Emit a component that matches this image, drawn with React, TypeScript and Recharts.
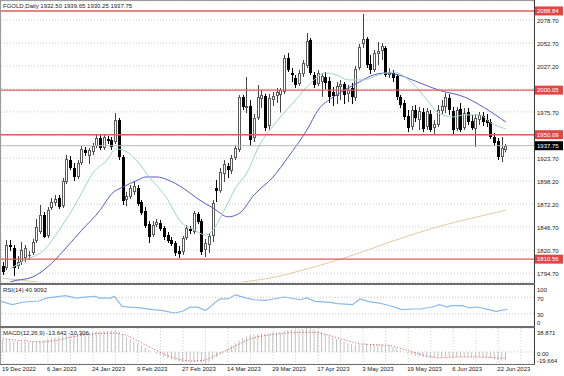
import React from "react";
import { ComposedChart, Bar, Line, XAxis, YAxis, CartesianGrid, ReferenceLine } from "recharts";

const FONT = "'Liberation Sans', Arial, sans-serif";
const W = 564;
const AXIS_W = 30;
const SLOTS = 142; // 135 bars + empty space on the right

// daily OHLC, one value per bar
const opens = [
  1802.9, 1800.6, 1826.4, 1823.1, 1802.9, 1807.4, 1811.9, 1814.1, 1817.5, 1830.9,
  1841.0, 1860.1, 1836.5, 1867.9, 1873.5, 1879.1, 1870.2, 1897.1, 1921.7, 1912.8,
  1902.7, 1918.4, 1933.0, 1926.2, 1930.7, 1937.4, 1946.4, 1935.2, 1945.3, 1944.2,
  1941.9, 1966.6, 1925.1, 1876.9, 1880.3, 1885.9, 1890.3, 1874.6, 1864.6, 1850.0,
  1837.6, 1848.9, 1851.1, 1845.5, 1837.6, 1832.0, 1828.7, 1819.7, 1818.6, 1834.3,
  1844.4, 1841.0, 1861.2, 1853.3, 1821.0, 1826.4, 1836.5, 1890.3, 1887.0, 1906.0,
  1915.0, 1909.4, 1924.0, 1933.0, 1992.4, 1980.0, 1982.3, 1946.4, 1968.8, 1990.1,
  1993.5, 1959.9, 1989.0, 1993.5, 1994.6, 1997.9, 2036.1, 2019.3, 2013.7, 2006.9,
  2018.2, 2027.1, 2056.3, 2017.0, 2006.9, 2009.2, 2014.8, 2010.3, 1998.0, 1993.5,
  2003.6, 2006.9, 1995.7, 2002.5, 1991.2, 2024.9, 2051.8, 2057.4, 2029.3, 2022.6,
  2040.6, 2043.9, 2047.3, 2017.0, 2019.3, 2015.9, 1992.4, 1985.6, 1971.1, 1958.7,
  1977.8, 1966.6, 1975.5, 1958.7, 1973.3, 1957.6, 1961.0, 1976.7, 1981.2, 1991.2,
  1976.7, 1956.5, 1978.9, 1957.6, 1975.5, 1965.5, 1956.5, 1966.6, 1971.1, 1966.6,
  1964.3, 1947.5, 1943.0, 1925.1, 1932.5,
];
const highs = [
  1807.4, 1832.0, 1832.0, 1826.4, 1814.1, 1829.8, 1826.4, 1819.7, 1833.2, 1855.6,
  1871.3, 1863.4, 1869.0, 1879.1, 1882.5, 1882.5, 1901.6, 1927.3, 1926.2, 1918.4,
  1921.7, 1937.4, 1936.3, 1935.2, 1940.8, 1949.8, 1949.8, 1950.9, 1948.6, 1947.5,
  1974.4, 1968.8, 1927.3, 1885.9, 1893.7, 1897.1, 1893.7, 1876.9, 1869.0, 1853.3,
  1853.3, 1855.6, 1854.5, 1847.7, 1841.0, 1835.4, 1830.9, 1825.3, 1836.5, 1848.9,
  1847.7, 1864.6, 1863.4, 1855.6, 1833.2, 1839.9, 1876.9, 1899.3, 1912.8, 1921.7,
  1918.4, 1927.3, 1938.6, 1994.6, 1994.6, 2014.8, 1989.0, 1973.3, 2005.8, 2000.2,
  1996.0, 1995.7, 1998.0, 2002.5, 2002.5, 2039.5, 2041.7, 2024.9, 2017.0, 2022.6,
  2033.9, 2064.1, 2058.5, 2020.4, 2022.6, 2019.3, 2020.4, 2014.8, 2003.6, 2009.2,
  2011.4, 2009.2, 2005.8, 2008.1, 2027.1, 2051.8, 2085.4, 2059.6, 2039.5, 2045.1,
  2054.0, 2052.9, 2049.5, 2024.9, 2022.6, 2018.2, 1994.6, 1989.0, 1977.8, 1982.3,
  1983.4, 1981.2, 1980.0, 1980.0, 1977.8, 1966.6, 1983.4, 1989.0, 1996.9, 1995.7,
  1981.2, 1981.2, 1985.6, 1980.0, 1980.0, 1972.2, 1973.3, 1975.5, 1975.5, 1973.3,
  1967.7, 1952.0, 1946.4, 1947.5, 1939.65,
];
const lows = [
  1792.8, 1798.4, 1819.7, 1791.7, 1799.5, 1804.0, 1807.4, 1809.6, 1815.2, 1828.7,
  1838.8, 1834.3, 1834.3, 1865.7, 1870.2, 1866.8, 1867.9, 1894.8, 1910.5, 1898.2,
  1900.4, 1916.1, 1926.2, 1917.3, 1927.3, 1935.2, 1933.0, 1933.0, 1939.7, 1933.0,
  1939.7, 1921.7, 1871.3, 1870.2, 1878.0, 1882.5, 1870.2, 1860.1, 1845.5, 1828.7,
  1835.4, 1846.6, 1842.1, 1832.0, 1828.7, 1825.3, 1814.1, 1811.9, 1815.2, 1832.0,
  1838.8, 1838.8, 1850.0, 1815.2, 1813.0, 1817.5, 1829.8, 1874.6, 1885.0, 1897.1,
  1901.6, 1906.0, 1921.7, 1930.7, 1977.8, 1974.4, 1937.4, 1941.9, 1966.6, 1980.0,
  1954.2, 1955.4, 1982.3, 1985.6, 1975.0, 1995.7, 2020.4, 2009.2, 2002.5, 2004.7,
  2014.8, 2024.9, 2017.0, 2002.5, 2004.7, 1992.4, 2001.3, 1985.6, 1982.3, 1984.5,
  1989.0, 1984.5, 1986.8, 1984.5, 1987.9, 2022.6, 2047.3, 2024.9, 2018.2, 2020.4,
  2028.2, 2033.9, 2014.8, 2013.7, 2009.2, 1989.0, 1980.0, 1966.6, 1953.1, 1955.4,
  1964.3, 1955.4, 1953.1, 1955.4, 1953.1, 1949.8, 1958.7, 1973.3, 1974.4, 1972.2,
  1950.9, 1954.2, 1953.1, 1955.4, 1961.0, 1955.4, 1936.3, 1961.0, 1959.9, 1958.7,
  1945.3, 1937.4, 1921.7, 1919.5, 1930.25,
];
const closes = [
  1796.2, 1826.4, 1824.2, 1800.6, 1807.4, 1820.8, 1823.1, 1815.2, 1829.8, 1846.6,
  1860.1, 1835.4, 1865.7, 1874.6, 1878.0, 1869.0, 1898.2, 1922.9, 1912.8, 1902.7,
  1918.4, 1934.1, 1929.6, 1933.0, 1937.4, 1946.4, 1935.2, 1947.5, 1943.0, 1936.3,
  1966.6, 1925.1, 1875.8, 1881.4, 1890.3, 1892.6, 1872.4, 1862.3, 1847.7, 1835.4,
  1848.9, 1852.2, 1844.4, 1835.4, 1830.9, 1827.6, 1817.5, 1816.3, 1834.3, 1845.5,
  1842.1, 1862.3, 1852.2, 1818.6, 1828.7, 1836.5, 1873.5, 1887.0, 1908.3, 1917.3,
  1910.5, 1924.0, 1935.2, 1992.4, 1981.2, 1982.3, 1944.2, 1968.8, 1992.4, 1994.6,
  1957.6, 1991.2, 1993.5, 1998.0, 2000.2, 2036.1, 2022.6, 2017.0, 2005.8, 2019.3,
  2030.5, 2055.2, 2019.3, 2005.8, 2019.3, 2015.9, 2008.1, 1992.4, 1993.5, 2004.7,
  2006.9, 1994.6, 2000.2, 1992.4, 2023.8, 2048.4, 2057.4, 2028.2, 2022.6, 2041.7,
  2043.9, 2049.5, 2017.0, 2020.4, 2013.7, 1992.4, 1983.4, 1969.9, 1957.6, 1977.8,
  1968.8, 1976.7, 1956.5, 1976.7, 1955.4, 1962.1, 1977.8, 1982.3, 1992.4, 1977.8,
  1955.4, 1977.8, 1955.4, 1974.4, 1964.3, 1957.6, 1968.8, 1972.2, 1964.3, 1963.2,
  1947.5, 1940.8, 1925.1, 1935.2, 1937.75,
];

// one label every 12 bars
const dateLabels = [
  "19 Dec 2022", "6 Jan 2023", "24 Jan 2023", "9 Feb 2023", "27 Feb 2023", "14 Mar 2023",
  "29 Mar 2023", "17 Apr 2023", "3 May 2023", "19 May 2023", "6 Jun 2023", "22 Jun 2023",
];

// moving averages: [bar index, price]
const maFast = [
  [2, 1800], [6, 1809.6], [11, 1820.8], [15, 1843.3], [20, 1876.9], [24, 1907.2], [28, 1922.9],
  [30, 1934.1], [32, 1933], [35, 1924], [39, 1902.7], [44, 1876.9], [47, 1854.5], [51, 1843.3],
  [54, 1837.6], [56, 1843.3], [59, 1865.7], [62, 1890.3], [65, 1907.2], [68, 1935.2], [74, 1970],
  [78, 1989], [82, 2008.1], [86, 2019.3], [89, 2017], [92, 2011.5], [96, 2011.5], [100, 2017],
  [104, 2020.4], [109, 2008.1], [113, 1989], [116, 1974.5], [120, 1970], [123, 1972.3],
  [127, 1972.3], [130, 1963.3], [134, 1956.6],
];
const maSlow = [
  [0, 1781], [2, 1785], [8, 1790.6], [13, 1806], [17, 1824], [21, 1843], [26, 1866], [29, 1884],
  [32, 1891.5], [36, 1899.3], [38, 1902.7], [41, 1902.7], [44, 1899.3], [48, 1890.3], [52, 1878],
  [56, 1867.9], [60, 1858], [63, 1862], [67, 1883], [72, 1902.7], [76, 1925], [81, 1955.4],
  [84, 1977.8], [88, 1992.3], [91, 2000.2], [95, 2009.2], [98, 2015.9], [102, 2019.3],
  [105, 2017.5], [110, 2010], [116, 2000.2], [123, 1992.3], [128, 1981], [134, 1964.3],
];
const maLong = [
  [0, 1789], [6, 1786.5], [12, 1783.5], [20, 1780], [30, 1777], [40, 1776], [48, 1777],
  [56, 1780], [64, 1785], [72, 1790], [80, 1798.5], [88, 1808], [96, 1819], [104, 1831],
  [112, 1842], [120, 1851.5], [128, 1859.5], [134, 1865.5],
];

const rsiPoints = [
  [0, 60], [3, 52], [6, 58.5], [10, 61], [12, 68], [14, 70.5], [17, 74], [20, 68], [22, 70.5],
  [25, 72.5], [26, 68], [29, 68], [30, 72.5], [32, 48], [34, 46], [37, 44], [40, 40], [42, 38.5],
  [46, 31.7], [48, 36], [50, 46], [52, 46], [54, 38], [55, 44], [57, 60], [58, 66], [60, 66],
  [62, 76], [65, 68], [67, 64], [70, 62.7], [71, 64], [75, 70.7], [79, 64], [81, 68.3], [83, 60],
  [87, 57.5], [89, 54.4], [93, 52], [95, 66], [97, 60], [100, 56], [103, 49.5], [106, 40],
  [109, 41.5], [111, 41.5], [114, 46.3], [116, 52], [118, 46.3], [119, 49.5], [122, 49.5],
  [124, 44], [126, 46.3], [129, 39.8], [131, 35.9], [134, 40.9092],
];

const macdMain = [
  19, 18.5, 18, 17.5, 17, 16.5, 16, 16, 16.5, 17,
  18, 19, 20.5, 22, 23.5, 25, 26.5, 28, 28.5, 29,
  29.5, 30.5, 31, 31.5, 32, 33, 33.5, 34, 34.5, 35,
  35.5, 33, 28, 24, 20.5, 17, 13.5, 10, 6.5, 3,
  0, -3, -6, -8.5, -10.5, -12.5, -14, -15.5, -16.5, -17,
  -17.5, -17, -16.5, -18, -19.664, -17, -13, -8.5, -4, 1,
  5.5, 10, 14, 19, 22.5, 25, 27, 28.5, 29.5, 30,
  30, 30.5, 31.5, 32, 32.5, 34, 35.5, 36, 36.5, 37,
  37.5, 38.3, 38.871, 37, 35, 32.5, 29.5, 26.5, 23.5, 21,
  18.5, 16, 14, 12.5, 11.5, 12, 13, 13, 12.5, 12,
  12, 12, 11, 9.5, 7.5, 5, 2.5, 0, -2.5, -4.5,
  -6.5, -8, -9, -9.5, -10, -10, -9.5, -9, -8.5, -8.5,
  -8.5, -8.5, -8.5, -8.5, -8.5, -8.5, -8.5, -8.5, -9, -9.5,
  -10.5, -11.5, -13, -14, -13.642,
];
const macdSignal = [
  [0, 21], [5, 18.5], [10, 16], [14, 18.2], [17, 22.5], [21, 27.5], [25, 29.8], [30, 31],
  [33, 27], [36, 18], [40, 5], [44, -6.5], [47, -12.5], [50, -15], [54, -13.5], [57, -5],
  [61, 7], [65, 19], [68, 25], [72, 28.5], [76, 31], [80, 32], [84, 31.5], [87, 27], [90, 21],
  [95, 13], [100, 11.5], [103, 10.5], [106, 5.5], [110, -1.5], [113, -7], [116, -9.8],
  [120, -8.5], [126, -8.3], [131, -9.4], [134, -10.306],
];

const levels = [2088.84, 2000.05, 1950.09, 1810.56];
const priceTicks = [2078.7, 2052.7, 2027.2, 2001.45, 1975.7, 1949.7, 1923.7, 1898.2, 1872.2, 1846.7, 1820.7, 1794.7];
const rsiTicks = [0, 30, 70, 100];
const macdTicks = [-19.664, 0, 38.871];
const lastClose = 1937.75;

const byIndex = (pts: number[][]) => new Map(pts.map(([i, v]) => [i, v]));
const fastAt = byIndex(maFast);
const slowAt = byIndex(maSlow);
const longAt = byIndex(maLong);
const rsiAt = byIndex(rsiPoints);
const signalAt = byIndex(macdSignal);

const rows = Array.from({ length: SLOTS }, (_, i) => {
  const has = i < closes.length;
  return {
    i,
    range: has ? [lows[i], highs[i]] : null,
    o: has ? opens[i] : null,
    h: has ? highs[i] : null,
    l: has ? lows[i] : null,
    c: has ? closes[i] : null,
    fast: fastAt.get(i) ?? null,
    slow: slowAt.get(i) ?? null,
    long: longAt.get(i) ?? null,
    rsi: rsiAt.get(i) ?? null,
    macd: has ? macdMain[i] : null,
    signal: signalAt.get(i) ?? null,
  };
});

const gridTicks = rows.filter((r) => r.i % 6 === 0).map((r) => r.i);

function Candle(props: any) {
  const { x, y, width, height, payload } = props;
  if (!payload || payload.o == null) return <g />;
  const { o, c, h, l } = payload;
  const top = Math.min(y, y + height);
  const span = Math.abs(height);
  const k = h - l > 0 ? span / (h - l) : 0;
  const py = (v: number) => top + (h - v) * k;
  const cx = Math.round(x + width / 2);
  const up = c >= o;
  const bTop = Math.round(py(Math.max(o, c)));
  const bH = Math.max(1, Math.round(py(Math.min(o, c))) - bTop);
  return (
    <g>
      <rect x={cx} y={top} width={1} height={span} fill={up ? "#444" : "#000"} />
      <rect x={cx - 1} y={bTop} width={3} height={bH} fill={up ? "#5a5a5a" : "#000"} />
      {up && bH > 2 && <rect x={cx} y={bTop + 1} width={1} height={bH - 2} fill="#fff" />}
    </g>
  );
}

function Tag({ viewBox, text, bg }: any) {
  if (!viewBox) return null;
  const x = viewBox.x + viewBox.width + 1;
  const y = viewBox.y;
  return (
    <g>
      <rect x={x} y={y - 4.5} width={28} height={9} fill={bg} />
      <text x={x + 2} y={y} dy="0.35em" fontSize={6} fill="#fff" fontFamily={FONT}>{text}</text>
    </g>
  );
}

function PriceTick({ x, y, payload }: any) {
  const v = payload.value;
  if (levels.some((lv) => Math.abs(lv - v) < 4)) return <g />;
  return (
    <text x={x} y={y + 1} dy="0.35em" fontSize={6} fill="#222" fontFamily={FONT}>{v.toFixed(2)}</text>
  );
}

function SideTick({ x, y, payload, lo, hi, fmt }: any) {
  const v = payload.value;
  const shift = v === hi ? 4.5 : v === lo ? -3.5 : 1.5;
  return (
    <text x={x} y={y + shift} dy="0.35em" fontSize={6} fill="#222" fontFamily={FONT}>{fmt(v)}</text>
  );
}

function DateTick({ x, y, payload }: any) {
  const idx = payload.value;
  if (idx % 12 !== 0 || !dateLabels[idx / 12]) return <g />;
  return (
    <text x={x - 1} y={y} dy="0.8em" fontSize={6} fill="#222" fontFamily={FONT}>{dateLabels[idx / 12]}</text>
  );
}

const grid = <CartesianGrid stroke="#cfcfcf" strokeDasharray="1 2" />;
const margin = { left: 1, right: 0 };
const line = (bg: string, top: number, left: number, w: number, h: number) => (
  <div style={{ position: "absolute", left, top, width: w, height: h, background: bg }} />
);
const caption = (text: string, top: number) => (
  <div style={{ position: "absolute", left: 3, top, fontSize: 6, lineHeight: "8px", color: "#222", fontFamily: FONT, whiteSpace: "nowrap" }}>{text}</div>
);

export default function App() {
  return (
    <div style={{ position: "fixed", left: 0, top: 0, width: W, height: 376, background: "#fff", overflow: "hidden" }}>
      <div style={{ position: "absolute", left: 0, top: 0 }}>
        <ComposedChart width={W} height={283} data={rows} margin={{ ...margin, top: 1, bottom: 1 }}>
          {grid}
          <XAxis dataKey="i" ticks={gridTicks} interval={0} tick={false} tickLine={false} axisLine={false} height={0} />
          <YAxis orientation="right" width={AXIS_W} domain={[1784.95, 2100]} allowDataOverflow ticks={priceTicks}
            interval={0} tick={<PriceTick />} tickLine={false} tickSize={0} tickMargin={3} axisLine={false} />
          <Line dataKey="long" stroke="#e2c9a6" strokeWidth={1} dot={false} connectNulls type="monotone" isAnimationActive={false} />
          <Bar dataKey="range" barSize={3} shape={Candle} isAnimationActive={false} />
          <Line dataKey="slow" stroke="#5a5ac8" strokeWidth={1} dot={false} connectNulls type="monotone" isAnimationActive={false} />
          <Line dataKey="fast" stroke="#9fd4bf" strokeWidth={1} dot={false} connectNulls type="monotone" isAnimationActive={false} />
          <ReferenceLine y={lastClose} stroke="#b8b8b8" label={<Tag text={lastClose.toFixed(2)} bg="#000" />} />
          {levels.map((lv) => (
            <ReferenceLine key={lv} y={lv} stroke="#e25a5a" strokeWidth={1.4} label={<Tag text={lv.toFixed(2)} bg="#e04848" />} />
          ))}
        </ComposedChart>
      </div>

      <div style={{ position: "absolute", left: 0, top: 284 }}>
        <ComposedChart width={W} height={42} data={rows} margin={{ ...margin, top: 1, bottom: 0 }}>
          <CartesianGrid stroke="#cfcfcf" strokeDasharray="1 2" horizontal={false} />
          <XAxis dataKey="i" ticks={gridTicks} interval={0} tick={false} tickLine={false} axisLine={false} height={0} />
          <YAxis orientation="right" width={AXIS_W} domain={[0, 100]} ticks={rsiTicks} interval={0}
            tick={<SideTick lo={0} hi={100} fmt={(v: number) => String(v)} />} tickLine={false} tickSize={0} tickMargin={3} axisLine={false} />
          <ReferenceLine y={70} stroke="#c8c8c8" strokeDasharray="1 2" />
          <ReferenceLine y={30} stroke="#c8c8c8" strokeDasharray="1 2" />
          <Line dataKey="rsi" stroke="#8cb9e8" strokeWidth={1.2} dot={false} connectNulls isAnimationActive={false} />
        </ComposedChart>
      </div>

      <div style={{ position: "absolute", left: 0, top: 327 }}>
        <ComposedChart width={W} height={49} data={rows} margin={{ ...margin, top: 1, bottom: 0 }}>
          {grid}
          <XAxis dataKey="i" ticks={gridTicks} interval={0} tick={<DateTick />} tickLine={false} tickSize={0} tickMargin={2} axisLine={false} height={12} />
          <YAxis orientation="right" width={AXIS_W} domain={[-19.664, 38.871]} allowDataOverflow ticks={macdTicks} interval={0}
            tick={<SideTick lo={-19.664} hi={38.871} fmt={(v: number) => (v === 0 ? "0.00" : String(v))} />}
            tickLine={false} tickSize={0} tickMargin={3} axisLine={false} />
          <Bar dataKey="macd" barSize={1} fill="#c2c2c2" isAnimationActive={false} />
          <Line dataKey="signal" stroke="#e04848" strokeWidth={1} strokeDasharray="1 2" dot={false} connectNulls isAnimationActive={false} />
        </ComposedChart>
      </div>

      {line("#9a9a9a", 0, 0, 535, 1)}
      {line("#9a9a9a", 0, 0, 1, 365)}
      {line("#3c3c3c", 0, 534, 1, 365)}
      {line("#6e6e6e", 283, 0, 535, 2)}
      {line("#6e6e6e", 326, 0, 535, 2)}
      {line("#6e6e6e", 364, 0, 535, 1)}
      {caption("FGOLD,Daily  1932.50 1939.65 1930.25 1937.75", 2)}
      {caption("RSI(14) 40.9092", 286)}
      {caption("MACD(12,26,9) -13.642 -10.306", 329)}
    </div>
  );
}
